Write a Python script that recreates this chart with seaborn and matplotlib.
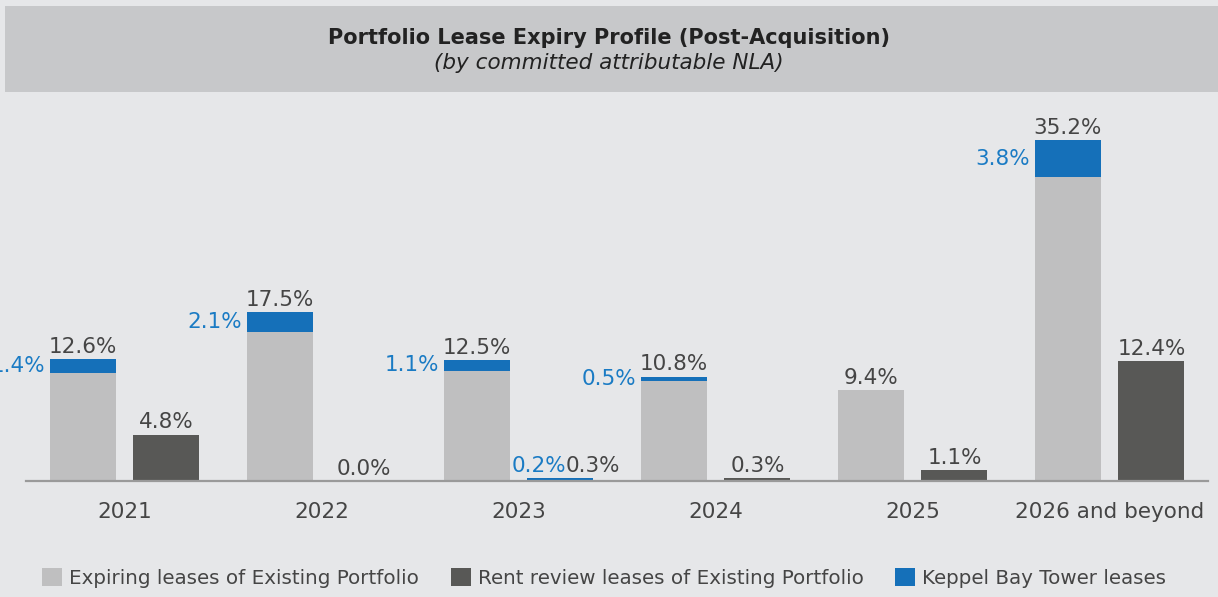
import matplotlib
matplotlib.use("Agg")
import matplotlib.pyplot as plt
from matplotlib.patches import Patch, Rectangle
import seaborn as sns
import pandas as pd

categories = ["2021", "2022", "2023", "2024", "2025", "2026 and beyond"]
expiring_total = [12.6, 17.5, 12.5, 10.8, 9.4, 35.2]
expiring_kbt = [1.4, 2.1, 1.1, 0.5, 0.0, 3.8]
rent_total = [4.8, 0.0, 0.3, 0.3, 1.1, 12.4]
rent_kbt = [0.0, 0.0, 0.2, 0.0, 0.0, 0.0]

series_names = ["Expiring leases of Existing Portfolio",
                "Rent review leases of Existing Portfolio"]
kbt_name = "Keppel Bay Tower leases"

BG = "#e6e7e9"
BAND = "#c7c8ca"
LIGHT = "#bfbfc0"
DARK = "#585856"
BLUE = "#1570b9"
BLUE_TXT = "#1a7bc4"
TXT = "#454545"

sns.set_theme(style="white")
plt.rcParams['font.family'] = ['DejaVu Sans']

rows = []
for i, c in enumerate(categories):
    rows.append(dict(cat=c, series=series_names[0], total=expiring_total[i],
                     base=expiring_total[i] - expiring_kbt[i], kbt=expiring_kbt[i]))
    rows.append(dict(cat=c, series=series_names[1], total=rent_total[i],
                     base=rent_total[i] - rent_kbt[i], kbt=rent_kbt[i]))
df = pd.DataFrame(rows)

fig = plt.figure(figsize=(12.18, 5.97), dpi=100)
fig.patch.set_facecolor(BG)

# title band
fig.patches.append(Rectangle((5 / 1218, 1 - 92 / 597), 1 - 5 / 1218, 86 / 597,
                             transform=fig.transFigure, facecolor=BAND,
                             edgecolor="none", zorder=0))
fig.text(0.5, 1 - 38 / 597, "Portfolio Lease Expiry Profile (Post-Acquisition)",
         ha="center", va="center", fontsize=15, fontweight="bold", color="#222222")
fig.text(0.5, 1 - 63 / 597, "(by committed attributable NLA)",
         ha="center", va="center", fontsize=15.5, fontstyle="italic", color="#222222")

ax = fig.add_axes([26 / 1218, 1 - 481 / 597, 1182 / 1218, 358 / 597])
ax.set_facecolor(BG)
ax.patch.set_alpha(0)

WIDTH = 0.852
GAP = 0.214
# totals in blue (visible part = Keppel Bay Tower segment)
sns.barplot(data=df, x="cat", y="total", hue="series", order=categories,
            hue_order=series_names, palette=[BLUE, BLUE], width=WIDTH, gap=GAP,
            ax=ax, legend=False, saturation=1, linewidth=0, zorder=2)
# existing portfolio parts on top
sns.barplot(data=df, x="cat", y="base", hue="series", order=categories,
            hue_order=series_names, palette=[LIGHT, DARK], width=WIDTH, gap=GAP,
            ax=ax, legend=False, saturation=1, linewidth=0, zorder=3)

ax.set_xlim(-0.5, len(categories) - 0.5)
ax.set_ylim(0, 37)
ax.set_xlabel("")
ax.set_ylabel("")
ax.set_yticks([])
for s in ["top", "right", "left"]:
    ax.spines[s].set_visible(False)
ax.spines["bottom"].set_color("#9a9a9a")
ax.spines["bottom"].set_linewidth(1.6)
ax.spines["bottom"].set_zorder(4)
ax.tick_params(axis="x", length=0, pad=15, labelsize=15.5, labelcolor=TXT)

off = WIDTH / 4
bw = WIDTH / 2 * (1 - GAP)
lbl_fs = 15.5
for i in range(len(categories)):
    # expiring
    xe = i - off
    ax.annotate(f"{expiring_total[i]:.1f}%", (xe, expiring_total[i]), xytext=(0, 1.5),
                textcoords="offset points", ha="center", va="bottom",
                fontsize=lbl_fs, color=TXT, annotation_clip=False)
    if expiring_kbt[i] > 0:
        ymid = expiring_total[i] - expiring_kbt[i] / 2
        ax.annotate(f"{expiring_kbt[i]:.1f}%", (xe - bw / 2, ymid), xytext=(-3, 0),
                    textcoords="offset points", ha="right", va="center",
                    fontsize=lbl_fs, color=BLUE_TXT, annotation_clip=False)
    # rent review
    xr = i + off
    if rent_kbt[i] > 0:
        ax.annotate(f"{rent_kbt[i]:.1f}%", (xr + 0.028, rent_total[i]), xytext=(0, 1.5),
                    textcoords="offset points", ha="right", va="bottom",
                    fontsize=lbl_fs, color=BLUE_TXT, annotation_clip=False)
        ax.annotate(f"{rent_total[i]:.1f}%", (xr + 0.028, rent_total[i]), xytext=(0, 1.5),
                    textcoords="offset points", ha="left", va="bottom",
                    fontsize=lbl_fs, color=TXT, annotation_clip=False)
    else:
        ax.annotate(f"{rent_total[i]:.1f}%", (xr, rent_total[i]), xytext=(0, 1.5),
                    textcoords="offset points", ha="center", va="bottom",
                    fontsize=lbl_fs, color=TXT, annotation_clip=False)

handles = [Patch(facecolor=LIGHT, edgecolor="none", label=series_names[0]),
           Patch(facecolor=DARK, edgecolor="none", label=series_names[1]),
           Patch(facecolor=BLUE, edgecolor="none", label=kbt_name)]
leg = fig.legend(handles=handles, loc="center left", bbox_to_anchor=(42 / 1218, 1 - 578 / 597),
                 ncol=3, frameon=False, fontsize=14.3, handlelength=1.0, handleheight=1.0,
                 handletextpad=0.36, columnspacing=1.6, borderaxespad=0, borderpad=0)
for t in leg.get_texts():
    t.set_color(TXT)

fig.savefig("out.png", dpi=100, facecolor=BG)
